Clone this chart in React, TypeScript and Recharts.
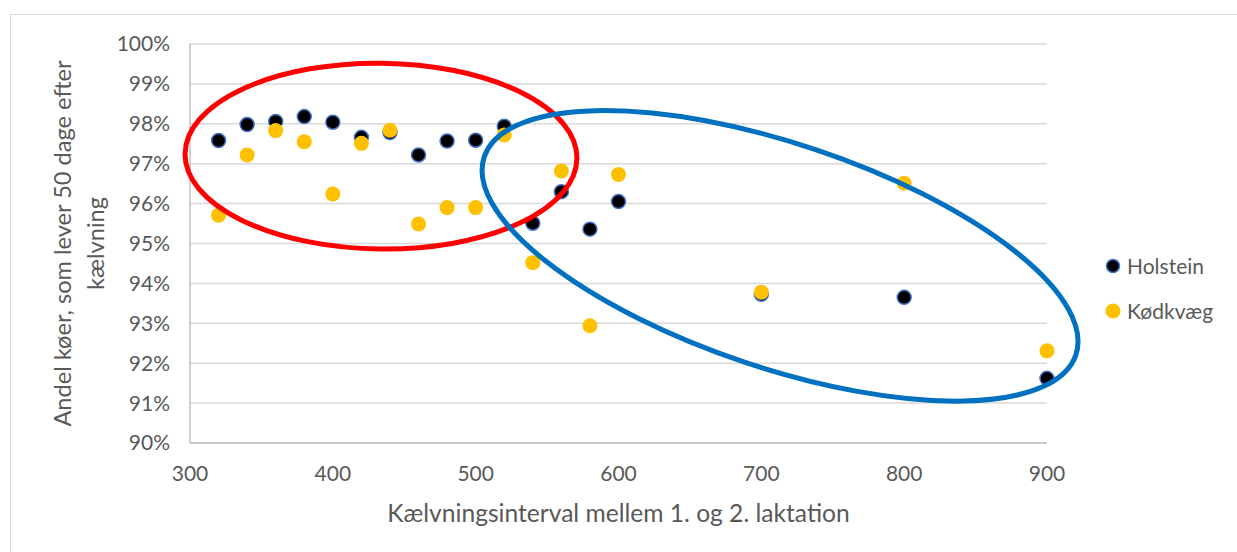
import React from 'react';
import {
  ScatterChart,
  Scatter,
  XAxis,
  YAxis,
  CartesianGrid,
  Legend,
  ReferenceArea,
} from 'recharts';

// Kælvningsinterval (dage)
const intervals = [320, 340, 360, 380, 400, 420, 440, 460, 480, 500, 520, 540, 560, 580, 600, 700, 800, 900];

// Andel køer (%), som lever 50 dage efter kælvning
const holstein = [97.58, 97.98, 98.06, 98.18, 98.04, 97.66, 97.78, 97.22, 97.57, 97.59, 97.94, 95.51, 96.3, 95.36, 96.05, 93.73, 93.65, 91.62];
const koedkvaeg = [95.71, 97.22, 97.83, 97.55, 96.24, 97.51, 97.84, 95.49, 95.9, 95.9, 97.72, 94.52, 96.82, 92.94, 96.73, 93.78, 96.51, 92.31];

const xTicks = [300, 400, 500, 600, 700, 800, 900];
const yTicks = [90, 91, 92, 93, 94, 95, 96, 97, 98, 99, 100];

const seriesNames = ['Holstein', 'Kødkvæg'];

// annotation rings, bounding box in data units
const redRing = { x1: 296.5, x2: 570.9, y1: 94.86, y2: 99.52 };
const blueRing = { x1: 494.7, x2: 931.5, y1: 91.88, y2: 97.5 };

const holsteinData = intervals.map((x, i) => ({ x, y: holstein[i] }));
const koedkvaegData = intervals.map((x, i) => ({ x, y: koedkvaeg[i] }));

const FONT = 'Lato, "Open Sans", sans-serif';
const TEXT = '#595959';

const HolsteinDot = (props: any) => (
  <circle cx={props.cx} cy={props.cy} r={7} fill="#000000" stroke="#4472C4" strokeWidth={1.5} />
);

const KoedDot = (props: any) => <circle cx={props.cx} cy={props.cy} r={7.5} fill="#FFC000" />;

const ring = (color: string, tilt: number) => (props: any) => {
  const { x, y, width, height } = props;
  const cx = x + width / 2;
  const cy = y + height / 2;
  return (
    <ellipse
      cx={cx}
      cy={cy}
      rx={width / 2}
      ry={height / 2}
      transform={`rotate(${tilt} ${cx} ${cy})`}
      fill="none"
      stroke={color}
      strokeWidth={5}
    />
  );
};

const YTitle = (props: any) => {
  const vb = props.viewBox || { x: 0, y: 44, width: 190, height: 399 };
  const cy = vb.y + vb.height / 2;
  const x1 = vb.x + 62;
  const x2 = vb.x + 95;
  return (
    <g fill={TEXT} fontSize={23.6} fontFamily={FONT}>
      <text x={x1} y={cy} textAnchor="middle" dominantBaseline="central" transform={`rotate(-90 ${x1} ${cy})`}>
        Andel køer, som lever 50 dage efter
      </text>
      <text x={x2} y={cy} textAnchor="middle" dominantBaseline="central" transform={`rotate(-90 ${x2} ${cy})`}>
        kælvning
      </text>
    </g>
  );
};

const LegendBox = () => (
  <div style={{ fontFamily: FONT, fontSize: 21, color: TEXT, whiteSpace: 'nowrap', width: 'max-content' }}>
    {seriesNames.map((name, i) => (
      <div key={name} style={{ display: 'flex', alignItems: 'center', height: 45 }}>
        <svg width={16} height={16} style={{ flexShrink: 0, display: 'block' }}>
          {i === 0 ? (
            <circle cx={8} cy={8} r={6.5} fill="#000000" stroke="#4472C4" strokeWidth={1.5} />
          ) : (
            <circle cx={8} cy={8} r={7.5} fill="#FFC000" />
          )}
        </svg>
        <span style={{ marginLeft: 6 }}>{name}</span>
      </div>
    ))}
  </div>
);

export default function App() {
  return (
    <div
      style={{
        position: 'absolute',
        left: 0,
        top: 0,
        width: 1237,
        height: 552,
        background: '#ffffff',
        overflow: 'hidden',
      }}
    >
      <div
        style={{
          position: 'absolute',
          left: 10,
          top: 14,
          width: 1300,
          height: 600,
          border: '1px solid #d9d9d9',
        }}
      />
      <div style={{ position: 'absolute', left: 0, top: 0 }}>
        <ScatterChart width={1237} height={552} margin={{ top: 44, right: 190, bottom: 0, left: 0 }}>
          <CartesianGrid horizontal vertical={false} stroke="#d9d9d9" strokeWidth={1.5} />
          <XAxis
            type="number"
            dataKey="x"
            domain={[300, 900]}
            ticks={xTicks}
            height={109}
            tickLine={false}
            tickSize={0}
            tickMargin={23}
            axisLine={{ stroke: '#bfbfbf', strokeWidth: 1.5 }}
            tick={{ fill: TEXT, fontSize: 21, fontFamily: FONT }}
            label={{
              value: 'Kælvningsinterval mellem 1. og 2. laktation',
              position: 'insideBottom',
              offset: 30,
              fill: TEXT,
              fontSize: 24.6,
              fontFamily: FONT,
            }}
          />
          <YAxis
            type="number"
            dataKey="y"
            domain={[90, 100]}
            ticks={yTicks}
            width={190}
            tickLine={false}
            tickSize={0}
            tickMargin={20}
            tickFormatter={(v: number) => `${v}%`}
            axisLine={{ stroke: '#bfbfbf', strokeWidth: 1.5 }}
            tick={{ fill: TEXT, fontSize: 21, fontFamily: FONT }}
            label={<YTitle />}
          />
          <Legend
            layout="vertical"
            align="right"
            verticalAlign="top"
            content={<LegendBox />}
            wrapperStyle={{ left: 1105, top: 243, width: 0 }}
          />
          <Scatter name={seriesNames[0]} data={holsteinData} shape={HolsteinDot} isAnimationActive={false} />
          <Scatter name={seriesNames[1]} data={koedkvaegData} shape={KoedDot} isAnimationActive={false} />
          <ReferenceArea {...redRing} ifOverflow="visible" zIndex={700} shape={ring('#FF0000', 0.7)} />
          <ReferenceArea {...blueRing} ifOverflow="visible" zIndex={701} shape={ring('#0070C0', 18.5)} />
        </ScatterChart>
      </div>
    </div>
  );
}
